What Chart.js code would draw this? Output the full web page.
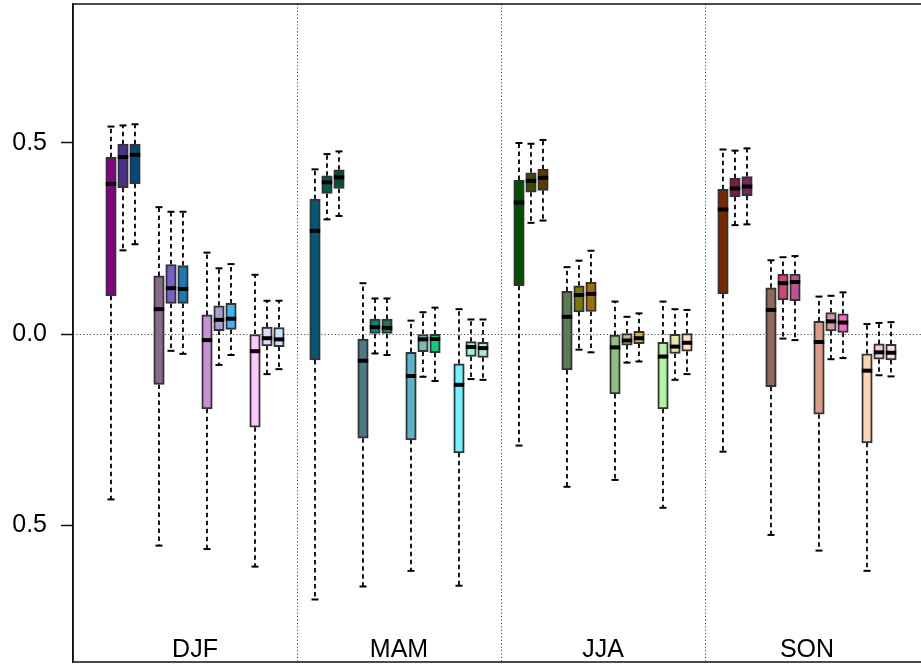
<!DOCTYPE html>
<html>
<head>
<meta charset="utf-8">
<script src="https://cdn.jsdelivr.net/npm/chart.js@4/dist/chart.umd.min.js"></script>
<style>
  html, body { margin: 0; padding: 0; background: #fff; overflow: hidden; }
  #wrap { position: relative; width: 921px; height: 666px; }
</style>
</head>
<body>
<div id="wrap"><canvas id="c" width="921" height="666"></canvas></div>
<script>
// ---- data ----
const seasons = ["DJF", "MAM", "JJA", "SON"];
const groupsPerSeason = 4;
const membersPerGroup = 3;

const yTickValues = [-0.5, 0.0, 0.5];
const yTickLabels = ["0.5", "0.0", "0.5"];

const whiskerHigh = [
   0.543, 0.546, 0.549,  0.332, 0.320, 0.320,  0.213, 0.172, 0.183,  0.155, 0.087, 0.087,
   0.431, 0.471, 0.478,  0.133, 0.093, 0.093,  0.035, 0.057, 0.069,  0.065, 0.038, 0.038,
   0.500, 0.498, 0.508,  0.175, 0.192, 0.218,  0.085, 0.045, 0.054,  0.085, 0.065, 0.063,
   0.483, 0.480, 0.486,  0.193, 0.201, 0.204,  0.098, 0.100, 0.109,  0.026, 0.029, 0.031
];
const q3 = [
   0.463, 0.497, 0.497,  0.152, 0.182, 0.179,  0.050, 0.074, 0.080,  0.000, 0.018, 0.017,
   0.353, 0.414, 0.430, -0.013, 0.039, 0.039, -0.048, 0.000,-0.001, -0.078,-0.020,-0.022,
   0.403, 0.422, 0.431,  0.112, 0.126, 0.135, -0.003, 0.001, 0.007, -0.022,-0.001, 0.001,
   0.379, 0.408, 0.412,  0.121, 0.157, 0.157,  0.033, 0.056, 0.053, -0.052,-0.026,-0.027
];
const median = [
   0.393, 0.463, 0.469,  0.065, 0.120, 0.118, -0.016, 0.037, 0.040, -0.045,-0.011,-0.014,
   0.270, 0.397, 0.410, -0.070, 0.018, 0.016, -0.110,-0.014,-0.013, -0.133,-0.034,-0.037,
   0.344, 0.401, 0.409,  0.045, 0.102, 0.105, -0.035,-0.017,-0.011, -0.059,-0.033,-0.023,
   0.326, 0.381, 0.386,  0.063, 0.133, 0.136, -0.021, 0.033, 0.030, -0.096,-0.048,-0.049
];
const q1 = [
   0.100, 0.383, 0.393, -0.132, 0.080, 0.080, -0.196, 0.009, 0.012, -0.244,-0.031,-0.033,
  -0.068, 0.368, 0.381, -0.273, 0.000, 0.000, -0.277,-0.046,-0.049, -0.311,-0.059,-0.061,
   0.126, 0.371, 0.376, -0.094, 0.058, 0.059, -0.157,-0.029,-0.025, -0.196,-0.051,-0.045,
   0.105, 0.359, 0.362, -0.138, 0.089, 0.087, -0.210, 0.008, 0.004, -0.285,-0.066,-0.068
];
const whiskerLow = [
  -0.433, 0.219, 0.235, -0.554,-0.044,-0.052, -0.563,-0.081,-0.055, -0.609,-0.105,-0.092,
  -0.695, 0.300, 0.309, -0.661,-0.051,-0.055, -0.620,-0.112,-0.123, -0.659,-0.118,-0.120,
  -0.292, 0.291, 0.297, -0.400,-0.041,-0.048, -0.382,-0.075,-0.072, -0.455,-0.120,-0.105,
  -0.308, 0.285, 0.287, -0.526,-0.012,-0.016, -0.567,-0.066,-0.063, -0.620,-0.108,-0.111
];
const boxColors = [
  "#880088","#4a3090","#004a80", "#8a6a8e","#7a5fcc","#1a7ab8", "#c88ed6","#aaa0cc","#40b4f0", "#ffc8fa","#e2d8fa","#cce4fa",
  "#005a78","#00604c","#00522e", "#4a7c88","#00887a","#108050", "#58b4c8","#80b8b0","#10cc80", "#70f4ff","#90f4e4","#b0e8cc",
  "#005200","#3e4a00","#5e3c00", "#5a7c52","#7a7a00","#a07000", "#8cbf80","#b8bc8c","#e8b020", "#b0f4a0","#e8e8a8","#fce0c8",
  "#7a2800","#841a40","#80206a", "#926858","#cc4870","#c0509a", "#da9a84","#d09ca8","#ff64c8", "#ffd4b0","#ffc8e0","#ffd8f4"
];

// ---- layout helpers (positions in slot units) ----
const slotsPerSeason = groupsPerSeason * (membersPerGroup + 1) + 1; // 17
const positions = q3.map((_, i) => {
  const s = Math.floor(i / 12), g = Math.floor((i % 12) / 3), m = i % 3;
  return s * slotsPerSeason + g * (membersPerGroup + 1) + m;
});
const seasonCenters = seasons.map((_, s) => s * slotsPerSeason + 7);
const separators = seasons.slice(1).map((_, s) => s * slotsPerSeason + 15.5);

const FONT = "'Liberation Sans', Arial, Helvetica, sans-serif";

const boxData = positions.map((x, i) => ({ x: x, y: [q1[i], q3[i]] }));
const medianData = positions.map((x, i) => ({ x: x, y: median[i] }));
const capData = [];
const whiskerData = [];
positions.forEach((x, i) => {
  capData.push({ x: x, y: whiskerHigh[i] }, { x: x, y: whiskerLow[i] });
  whiskerData.push({ x: x, y: q3[i] }, { x: x, y: whiskerHigh[i] }, { x: x, y: null });
  whiskerData.push({ x: x, y: q1[i] }, { x: x, y: whiskerLow[i] }, { x: x, y: null });
});

const framePlugin = {
  id: 'frame',
  beforeDatasetsDraw(chart) {
    const { ctx, chartArea: a, scales } = chart;
    ctx.save();
    ctx.strokeStyle = '#4a4a4a';
    ctx.lineWidth = 1;
    ctx.setLineDash([1.2, 2.2]);
    const y0 = Math.round(scales.y.getPixelForValue(0)) + 0.5;
    ctx.beginPath(); ctx.moveTo(a.left, y0); ctx.lineTo(a.right, y0); ctx.stroke();
    separators.forEach(v => {
      const x = Math.round(scales.x.getPixelForValue(v)) + 0.5;
      ctx.beginPath(); ctx.moveTo(x, a.top); ctx.lineTo(x, a.bottom); ctx.stroke();
    });
    ctx.restore();
  },
  afterDraw(chart) {
    const { ctx, chartArea: a, scales } = chart;
    ctx.save();
    ctx.strokeStyle = '#111';
    ctx.lineWidth = 1.5;
    ctx.beginPath();
    ctx.moveTo(a.right + 2, a.top); ctx.lineTo(a.left, a.top);
    ctx.lineTo(a.left, a.bottom); ctx.lineTo(a.right + 2, a.bottom);
    ctx.stroke();
    ctx.fillStyle = '#000';
    ctx.font = "25px " + FONT;
    ctx.textAlign = 'center';
    ctx.textBaseline = 'alphabetic';
    seasons.forEach((name, s) => {
      ctx.fillText(name, scales.x.getPixelForValue(seasonCenters[s]), a.bottom - 5);
    });
    ctx.restore();
  }
};

new Chart(document.getElementById('c'), {
  type: 'bar',
  data: {
    datasets: [
      {
        type: 'bar', data: boxData, order: 3,
        backgroundColor: boxColors, borderColor: '#333', borderWidth: 2,
        borderSkipped: false, barThickness: 10.5, grouped: false
      },
      {
        type: 'line', data: whiskerData, order: 4,
        borderColor: '#000', borderWidth: 1.8, borderDash: [4.5, 3.5],
        pointRadius: 0, spanGaps: false, fill: false, tension: 0
      },
      {
        type: 'scatter', data: capData, order: 2,
        pointStyle: 'line', pointRadius: 3.5, borderColor: '#000', borderWidth: 2
      },
      {
        type: 'scatter', data: medianData, order: 1,
        pointStyle: 'line', pointRadius: 5.2, borderColor: '#000', borderWidth: 4
      }
    ]
  },
  options: {
    responsive: false,
    animation: false,
    events: [],
    layout: { autoPadding: false, padding: { top: 4, bottom: 4, left: 0, right: 0 } },
    plugins: { legend: { display: false }, tooltip: { enabled: false } },
    scales: {
      x: {
        type: 'linear', display: false, offset: false,
        min: -38 / 12, max: -38 / 12 + 848 / 12
      },
      y: {
        type: 'linear',
        min: -(662 - 334) / 382, max: (334 - 4) / 382,
        afterFit(scale) { scale.width = 73; scale.paddingTop = 0; scale.paddingBottom = 0; },
        afterBuildTicks(scale) { scale.ticks = yTickValues.map(v => ({ value: v })); },
        ticks: {
          color: '#000', padding: 14,
          font: { family: FONT, size: 25 },
          callback: (v, i) => yTickLabels[i]
        },
        grid: { drawOnChartArea: false, drawTicks: true, tickLength: 12, tickColor: '#111', tickWidth: 1.5 },
        border: { display: true, color: '#111', width: 1.5 }
      }
    }
  },
  plugins: [framePlugin]
});
</script>
</body>
</html>
